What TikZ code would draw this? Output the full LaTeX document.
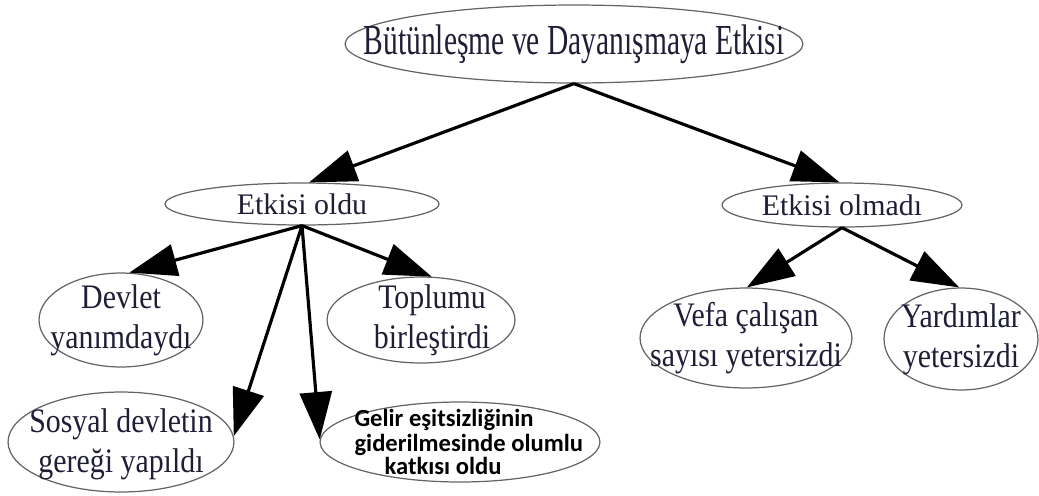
\documentclass[tikz,border=0pt]{standalone}
\usepackage{fontspec}
\usepackage{graphicx}
\setmainfont{Liberation Serif}
\newfontfamily\calibri{Carlito}
\usetikzlibrary{shapes.geometric,arrows.meta}

\definecolor{ink}{RGB}{30,30,54}
\definecolor{rim}{RGB}{100,100,100}

% two lines, drawn a bit taller as in the scan
\newcommand\twolines[1]{\scalebox{1}[1.15]{\begin{tabular}{@{}c@{}}#1\end{tabular}}}

\tikzset{
        oval/.style={ellipse, draw=rim, line width=0.7pt, inner sep=0pt},
        rad/.style 2 args={minimum width=#1*0.04cm, minimum height=#2*0.04cm},
        txt/.style={font=\fontsize{17}{19.8}\selectfont, text=ink, align=center},
        arr/.style={-{Triangle[length=0.95cm,width=0.64cm]}, line width=1.8pt},
}

\begin{document}
\begin{tikzpicture}[x=0.02cm, y=-0.02cm]
        \useasboundingbox (0,0) rectangle (1039,495);

        \node[oval, rad={229}{39}, label={[txt, font=\fontsize{16.8}{20}\selectfont]center:\scalebox{1}[1.45]{Bütünleşme ve Dayanışmaya Etkisi}}] (top) at (574,44) {};

        \node[oval, rad={137}{21}, label={[txt]center:Etkisi oldu}] (oldu) at (302,204) {};
        \node[oval, rad={120}{22}, label={[txt]center:Etkisi olmadı}] (olmadi) at (842,205) {};

        \node[oval, rad={82}{47}, label={[txt]center:\twolines{Devlet\\yanımdaydı}}] (devlet) at (121,320) {};
        \node[oval, rad={94}{43}, label={[txt, xshift=0.22cm]center:\twolines{Toplumu\\birleştirdi}}] (toplumu) at (421,320) {};
        \node[oval, rad={113}{50}, label={[txt, yshift=-0.05cm]center:\twolines{Sosyal devletin\\gereği yapıldı}}] (sosyal) at (121,442) {};
        \node[oval, rad={140}{40}, label={[font=\calibri\bfseries\fontsize{14}{16}\selectfont, align=left, xshift=5pt]center:Gelir eşitsizliğinin\\[-1.5pt]giderilmesinde olumlu\\[-3pt]\hspace*{0.6cm}katkısı oldu}] (gelir) at (460,442) {};

        \node[oval, rad={106}{50}, label={[txt]center:\twolines{Vefa çalışan\\sayısı yetersizdi}}] (vefa) at (746,338) {};
        \node[oval, rad={77}{51}, label={[txt]center:\twolines{Yardımlar\\yetersizdi}}] (yardim) at (961,339) {};

        \draw[arr] (top.south) -- (oldu.72);
        \draw[arr] (top.south) -- (olmadi.96);

        \draw[arr] (oldu.south) -- (devlet.80);
        \draw[arr] (oldu.south) -- (toplumu.76);
        \draw[arr] (oldu.south) -- (sosyal.3);
        \draw[arr] (oldu.south) -- (gelir.179);

        \draw[arr] (olmadi.south) -- (vefa.89);
        \draw[arr] (olmadi.south) -- (yardim.92);
\end{tikzpicture}
\end{document}
